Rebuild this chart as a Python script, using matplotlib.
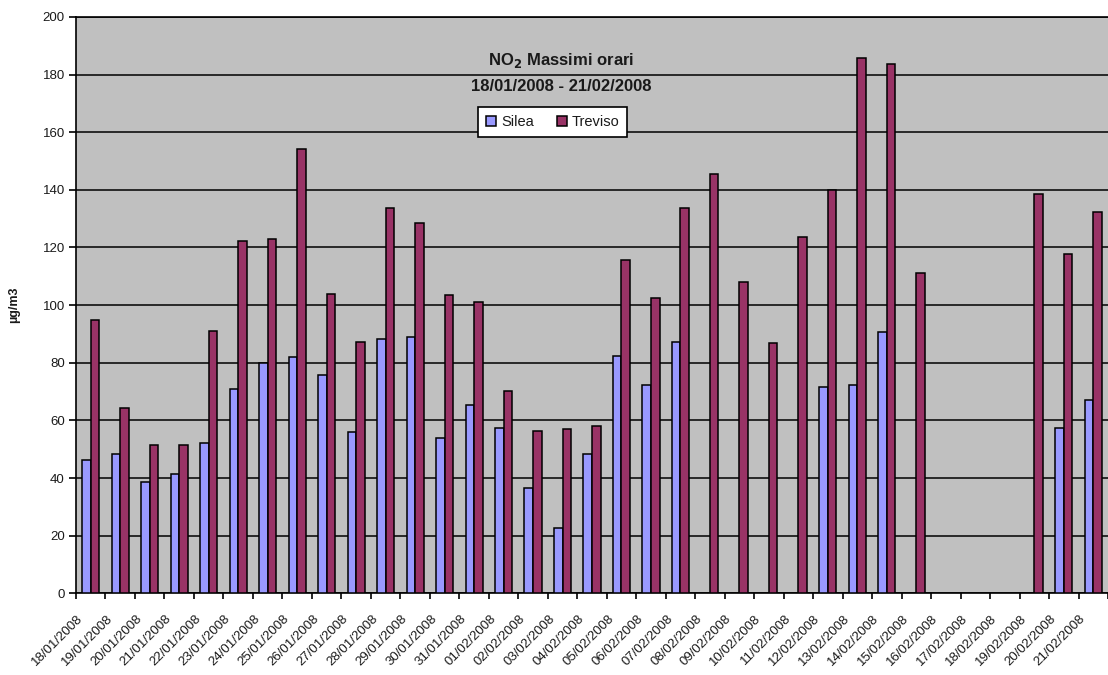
"""NO2 hourly maxima, Silea vs Treviso, 18/01/2008 - 21/02/2008."""

import matplotlib

matplotlib.use("Agg")

import matplotlib.pyplot as plt
import matplotlib.transforms as mtransforms
import numpy as np

nan = float("nan")

dates = [
    "18/01/2008", "19/01/2008", "20/01/2008", "21/01/2008", "22/01/2008",
    "23/01/2008", "24/01/2008", "25/01/2008", "26/01/2008", "27/01/2008",
    "28/01/2008", "29/01/2008", "30/01/2008", "31/01/2008", "01/02/2008",
    "02/02/2008", "03/02/2008", "04/02/2008", "05/02/2008", "06/02/2008",
    "07/02/2008", "08/02/2008", "09/02/2008", "10/02/2008", "11/02/2008",
    "12/02/2008", "13/02/2008", "14/02/2008", "15/02/2008", "16/02/2008",
    "17/02/2008", "18/02/2008", "19/02/2008", "20/02/2008", "21/02/2008",
]

silea = [
    46.1, 48.4, 38.7, 41.5, 52.1, 70.8, 79.8, 82.0, 75.6, 55.8,
    88.2, 88.8, 53.8, 65.3, 57.4, 36.6, 22.8, 48.3, 82.4, 72.3,
    87.3, nan, nan, nan, nan, 71.7, 72.3, 90.5, nan, nan,
    nan, nan, nan, 57.4, 67.0,
]

treviso = [
    94.8, 64.4, 51.5, 51.5, 91.0, 122.2, 123.1, 154.0, 103.8, 87.3,
    133.7, 128.5, 103.5, 101.2, 70.3, 56.3, 56.9, 58.0, 115.6, 102.3,
    133.7, 145.5, 108.1, 86.7, 123.6, 140.1, 185.6, 183.5, 111.3, nan,
    nan, nan, 138.5, 117.7, 132.3,
]

y_ticks = [0, 20, 40, 60, 80, 100, 120, 140, 160, 180, 200]

SILEA_COLOR = "#9999FF"
TREVISO_COLOR = "#993366"
PLOT_BG = "#C0C0C0"
TEXT_COLOR = "#1a1a1a"
FONT = ["Liberation Sans", "DejaVu Sans"]

plt.rcParams["font.family"] = FONT

fig = plt.figure(figsize=(11.08, 6.75), dpi=100)
ax = fig.add_axes([0.0686, 0.121, 0.9314, 0.854])
ax.set_facecolor(PLOT_BG)

x = np.arange(len(dates))
width = 0.29
silea_arr = np.array(silea)
treviso_arr = np.array(treviso)
ok_s = ~np.isnan(silea_arr)
ok_t = ~np.isnan(treviso_arr)
ax.bar(x[ok_s] - width / 2, silea_arr[ok_s], width, color=SILEA_COLOR,
       edgecolor="black", linewidth=1.1, label="Silea", zorder=3)
ax.bar(x[ok_t] + width / 2, treviso_arr[ok_t], width, color=TREVISO_COLOR,
       edgecolor="black", linewidth=1.1, label="Treviso", zorder=3)

ax.set_xlim(-0.5, len(dates) - 0.5)
ax.set_ylim(0, 200)
ax.set_yticks(y_ticks)
ax.yaxis.grid(True, color="black", linewidth=1.1, zorder=1)
ax.set_axisbelow(True)

ax.tick_params(axis="y", direction="out", length=5, width=1.2, labelsize=9.5,
               labelcolor=TEXT_COLOR, pad=3)

# labels sit at category centres, tick marks at the category boundaries
ax.set_xticks(x)
ax.set_xticklabels(dates, rotation=45, ha="right", va="center",
                   rotation_mode="anchor", fontsize=9.5, color=TEXT_COLOR)
ax.tick_params(axis="x", which="major", length=0, pad=0)
ax.set_xticks(np.arange(-0.5, len(dates), 1.0), minor=True)
ax.tick_params(axis="x", which="minor", direction="out", length=4, width=1.2)

offset = mtransforms.ScaledTranslation(-7 / 72, -17 / 72, fig.dpi_scale_trans)
for lbl in ax.get_xticklabels():
    lbl.set_transform(lbl.get_transform() + offset)

for side in ["left", "top", "bottom"]:
    ax.spines[side].set_color("black")
    ax.spines[side].set_linewidth(1.2)
ax.spines["right"].set_visible(False)

ax.set_ylabel("µg/m3", fontsize=9, fontweight="bold", labelpad=16,
              color=TEXT_COLOR)

ax.text(0.470, 0.925, "NO$_\\mathbf{2}$ Massimi orari", transform=ax.transAxes,
        ha="center", va="center", fontsize=12, fontweight="bold",
        color=TEXT_COLOR)
ax.text(0.470, 0.880, "18/01/2008 - 21/02/2008", transform=ax.transAxes,
        ha="center", va="center", fontsize=12, fontweight="bold",
        color=TEXT_COLOR)

leg = ax.legend(loc="center", bbox_to_anchor=(0.462, 0.818), ncol=2,
                frameon=True, fancybox=False, edgecolor="black",
                fontsize=10.5, handlelength=0.7, handleheight=0.7,
                handletextpad=0.3, columnspacing=1.6, borderpad=0.55,
                borderaxespad=0)
leg.get_frame().set_linewidth(1.2)
leg.get_frame().set_facecolor("white")
leg.get_frame().set_alpha(1.0)
for txt in leg.get_texts():
    txt.set_color(TEXT_COLOR)

fig.savefig("out.png", dpi=100)
